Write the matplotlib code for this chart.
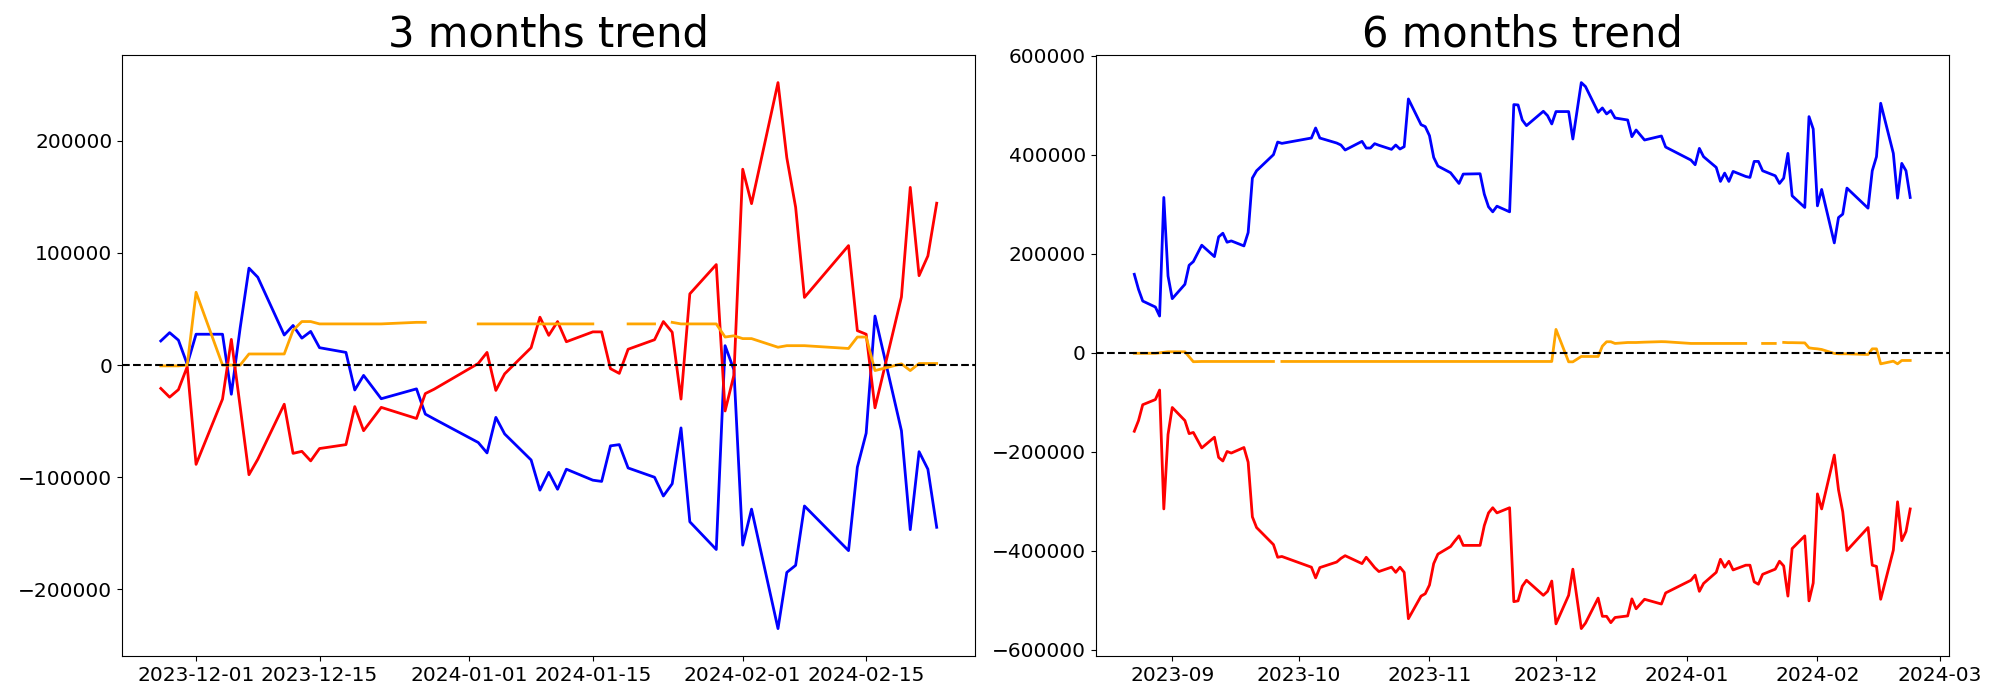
import matplotlib
matplotlib.use("Agg")
import matplotlib.pyplot as plt
import numpy as np
import pandas as pd

nan = np.nan

# ---- 3 months (values in thousands) ----
dates3 = ['2023-11-27', '2023-11-28', '2023-11-29', '2023-11-30', '2023-12-01',
          '2023-12-04', '2023-12-05', '2023-12-06', '2023-12-07', '2023-12-08',
          '2023-12-11', '2023-12-12', '2023-12-13', '2023-12-14', '2023-12-15',
          '2023-12-18', '2023-12-19', '2023-12-20', '2023-12-22',
          '2023-12-26', '2023-12-27', '2023-12-28',
          '2024-01-02', '2024-01-03', '2024-01-04', '2024-01-05',
          '2024-01-08', '2024-01-09', '2024-01-10', '2024-01-11', '2024-01-12',
          '2024-01-15', '2024-01-16', '2024-01-17', '2024-01-18', '2024-01-19',
          '2024-01-22', '2024-01-23', '2024-01-24', '2024-01-25', '2024-01-26',
          '2024-01-29', '2024-01-30', '2024-01-31', '2024-02-01', '2024-02-02',
          '2024-02-05', '2024-02-06', '2024-02-07', '2024-02-08',
          '2024-02-13', '2024-02-14', '2024-02-15', '2024-02-16',
          '2024-02-19', '2024-02-20', '2024-02-21', '2024-02-22', '2024-02-23']

blue3 = [21.5, 28.9, 22.2, 0.7, 27.5,
         27.5, -26, 33, 86.4, 78.3,
         26.8, 35.3, 24, 30, 15.5,
         11.3, -22.2, -9.2, -30,
         -21.2, -43.7, -48,
         -69, -78.3, -46.6, -61.4,
         -84.6, -111.5, -95.6, -110.7, -92.8,
         -102.6, -103.7, -72, -70.9, -91.7,
         -100, -116.7, -105.8, -56, -139.7,
         -164.4, 17.3, -4.2, -160.5, -128.4,
         -234.9, -184.8, -178.5, -125.6,
         -165.4, -91, -60.7, 43.7,
         -58.5, -146.7, -77.2, -92.8, -144.6]

red3 = [-20.8, -28.6, -21.9, -1.4, -88.5,
        -30.3, 22.9, -37, -97.7, -84,
        -34.9, -78.7, -76.9, -85.4, -74.4,
        -70.9, -37, -58.5, -37.7,
        -47.6, -25.4, -21.5,
        1.4, 11.3, -22.6, -7.8,
        15.5, 42.7, 26.5, 38.8, 20.8,
        29.6, 29.6, -3.2, -7.4, 14.1,
        22.6, 38.8, 29.3, -30.3, 63.5,
        89.6, -40.9, -9, 174.6, 143.9,
        251.8, 184.8, 140.7, 60.3,
        106.5, 30.7, 27.5, -38.1,
        60.7, 158.4, 79.7, 97.3, 144.3]

orange3 = [-0.7, -0.7, -0.7, 0, 64.9,
           0, 0, 0, 9.9, 9.9,
           9.9, 31, 38.8, 38.8, 36.7,
           36.7, 36.7, 36.7, 36.7,
           38.1, 38.1, nan,
           36.7, 36.7, 36.7, 36.7,
           36.7, 36.7, 36.7, 36.7, 36.7,
           36.7, nan, nan, nan, 36.7,
           36.7, nan, 38.1, 36.7, 36.7,
           36.7, 25, 26.1, 23.6, 23.6,
           15.9, 17.3, 17.3, 17.3,
           14.8, 25, 25, -4.9,
           1.1, -4.9, 1.4, 1.4, 1.4]

# ---- 6 months (values in thousands) ----
dates6 = ['2023-08-23', '2023-08-24', '2023-08-25',
          '2023-08-28', '2023-08-29', '2023-08-30', '2023-08-31', '2023-09-01',
          '2023-09-04', '2023-09-05', '2023-09-06', '2023-09-08',
          '2023-09-11', '2023-09-12', '2023-09-13', '2023-09-14', '2023-09-15',
          '2023-09-18', '2023-09-19', '2023-09-20', '2023-09-21',
          '2023-09-25', '2023-09-26', '2023-09-27',
          '2023-10-04', '2023-10-05', '2023-10-06',
          '2023-10-10', '2023-10-11', '2023-10-12',
          '2023-10-16', '2023-10-17', '2023-10-18', '2023-10-19', '2023-10-20',
          '2023-10-23', '2023-10-24', '2023-10-25', '2023-10-26', '2023-10-27',
          '2023-10-30', '2023-10-31', '2023-11-01', '2023-11-02', '2023-11-03',
          '2023-11-06', '2023-11-07', '2023-11-08', '2023-11-09',
          '2023-11-13', '2023-11-14', '2023-11-15', '2023-11-16', '2023-11-17',
          '2023-11-20', '2023-11-21', '2023-11-22', '2023-11-23', '2023-11-24',
          '2023-11-28', '2023-11-29', '2023-11-30', '2023-12-01',
          '2023-12-04', '2023-12-05', '2023-12-07', '2023-12-08',
          '2023-12-11', '2023-12-12', '2023-12-13', '2023-12-14', '2023-12-15',
          '2023-12-18', '2023-12-19', '2023-12-20', '2023-12-22',
          '2023-12-26', '2023-12-27',
          '2024-01-02', '2024-01-03', '2024-01-04', '2024-01-05',
          '2024-01-08', '2024-01-09', '2024-01-10', '2024-01-11', '2024-01-12',
          '2024-01-15', '2024-01-16', '2024-01-17', '2024-01-18', '2024-01-19',
          '2024-01-22', '2024-01-23', '2024-01-24', '2024-01-25', '2024-01-26',
          '2024-01-29', '2024-01-30', '2024-01-31', '2024-02-01', '2024-02-02',
          '2024-02-05', '2024-02-06', '2024-02-07', '2024-02-08',
          '2024-02-13', '2024-02-14', '2024-02-15', '2024-02-16',
          '2024-02-19', '2024-02-20', '2024-02-21', '2024-02-22', '2024-02-23']

blue6 = [158.5, 128.1, 104.5,
         92.4, 74.2, 313.6, 155.1, 109.3,
         138.3, 176.7, 184.1, 217.2,
         194.2, 234, 241.4, 223.2, 225.9,
         215.8, 242.8, 352.7, 367.5,
         400, 425.5, 422.8,
         433.6, 453.9, 433.6,
         423.5, 419.5, 409.4,
         426.9, 413.4, 413.4, 422.2, 419,
         410.7, 419.5, 411.4, 416.1, 512.5,
         460.6, 456.6, 438.4, 394.5, 377,
         363.5, 352.7, 341.9, 360.8,
         361.5, 320.3, 294.7, 284.6, 296,
         284.6, 501.1, 500.4, 470, 458.6,
         487.6, 478.8, 462, 487,
         487, 431.6, 545.5, 537.5,
         485.6, 494.3, 482.2, 489, 474.1,
         470, 436.3, 449.8, 429.6,
         437.7, 415.4,
         389.1, 379.7, 412.7, 395.9,
         374.3, 346, 362.8, 346, 366.2,
         356, 354, 386.4, 386.4, 367.5,
         357.4, 341.9, 352.7, 402.6, 317,
         293.4, 476.8, 451.8, 296.7, 329.8,
         221.9, 273.1, 279.9, 332.5,
         292, 367.5, 395.9, 503.8,
         402.6, 312.2, 382.4, 367.5, 313.6]

red6 = [-158.4, -136.8, -104.8,
        -94.4, -75.2, -315.2, -164.8, -110.4,
        -136.8, -163.2, -160.8, -192,
        -170.4, -211.2, -218.4, -199.2, -202.4,
        -191.2, -220.8, -331.2, -352.8,
        -387.2, -412.8, -411.2,
        -432.8, -454.4, -433.6,
        -422.4, -415, -409.6,
        -425.6, -412.8, -423, -433.6, -441.6,
        -432.8, -443.2, -432.8, -443.2, -536.8,
        -491.2, -486.4, -468.8, -425.6, -406.4,
        -391.2, -380, -369.6, -388.8,
        -388.8, -348.8, -323.2, -312.8, -323.2,
        -312.8, -502.4, -500.8, -471.2, -459.2,
        -489.6, -481.6, -460.8, -547.2,
        -489.6, -436.8, -556.8, -545.6,
        -495.2, -532, -532, -544.8, -534.4,
        -531.2, -496.8, -516.8, -497.6,
        -507.2, -484.8,
        -459.2, -448.8, -481.6, -465.6,
        -443.2, -416.8, -432.8, -420.8, -438.4,
        -428.8, -428.8, -462.4, -467.2, -447.2,
        -436.8, -420.8, -430.4, -491.2, -395.2,
        -369.6, -500.8, -464.8, -284.8, -315.2,
        -206.4, -276.8, -320.8, -399.2,
        -352.8, -428.8, -431.2, -497.6,
        -398.4, -300.8, -379.2, -360.8, -315.2]

orange6 = [-1, -1, -1,
           -1, 0, 1, 2, 2,
           2, -8, -18, -17.5,
           -17.5, -17.5, -17.5, -17.5, -17.5,
           -17.5, -17.5, -17.5, -17.5,
           -17.5, nan, -17.5,
           -17.5, -17.5, -17.5,
           -17.5, -17.5, -17.5,
           -17.5, -17.5, -17.5, -17.5, -17.5,
           -17.5, -17.5, -17.5, -17.5, -17.5,
           -17.5, -17.5, -17.5, -17.5, -17.5,
           -17.5, -17.5, -17.5, -17.5,
           -17.5, -17.5, -17.5, -17.5, -17.5,
           -17.5, -17.5, -17.5, -17.5, -17.5,
           -17.5, -17.5, -17.5, 47.2,
           -18.2, -18.2, -7.4, -7.4,
           -7.4, 13.5, 22.3, 22.3, 18.9,
           20.8, 20.8, 20.8, 21.5,
           22.5, 22.3,
           18.9, 18.9, 18.9, 18.9,
           18.9, 18.9, 18.9, 18.9, 18.9,
           18.9, nan, nan, nan, 18.9,
           18.9, nan, 21, 20.5, 20.5,
           20, 10, 8.8, 8, 6.7,
           -1.3, -2, -2, -2,
           -3.4, 8, 8, -22.3,
           -16.9, -22.3, -15.5, -15.5, -15.5]


def draw(ax, dates, blue, red, orange, title):
    x = pd.to_datetime(dates)
    ax.plot(x, np.array(blue) * 1000, color='blue', lw=2)
    ax.plot(x, np.array(red) * 1000, color='red', lw=2)
    ax.plot(x, np.array(orange) * 1000, color='orange', lw=2)
    ax.axhline(0, color='black', linestyle='--', lw=1.5)
    ax.set_title(title, fontsize=30)
    ax.tick_params(labelsize=14.5)


fig, (ax1, ax2) = plt.subplots(1, 2, figsize=(20, 7), dpi=100)
draw(ax1, dates3, blue3, red3, orange3, '3 months trend')
draw(ax2, dates6, blue6, red6, orange6, '6 months trend')
plt.subplots_adjust(left=0.061, right=0.9745, bottom=0.063, top=0.921, wspace=0.1406)
plt.savefig('out.png')
